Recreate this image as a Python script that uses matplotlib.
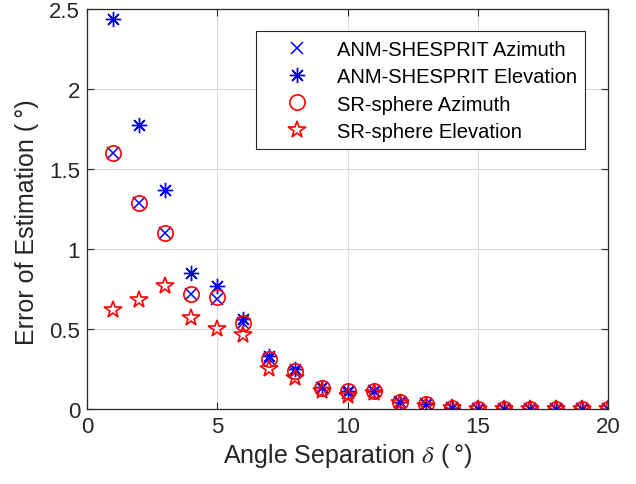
import matplotlib.pyplot as plt
import numpy as np

plt.rcParams['font.family'] = ['Liberation Sans', 'DejaVu Sans']
plt.rcParams['mathtext.fontset'] = 'stix'

# angle separation (deg)
sep = np.arange(1, 21)

anm_az = [1.60, 1.285, 1.10, 0.72, 0.69, 0.54, 0.31, 0.23, 0.13, 0.10, 0.11, 0.04, 0.03,
          0.005, 0.0, 0.0, 0.0, 0.0, 0.0, 0.0]
anm_el = [2.44, 1.775, 1.37, 0.85, 0.77, 0.56, 0.33, 0.25, 0.135, 0.11, 0.11, 0.045, 0.03,
          0.005, 0.0, 0.0, 0.0, 0.0, 0.0, 0.0]
sr_az = [1.60, 1.285, 1.10, 0.72, 0.70, 0.54, 0.31, 0.235, 0.13, 0.11, 0.11, 0.04, 0.03,
         0.005, 0.0, 0.0, 0.0, 0.0, 0.0, 0.0]
sr_el = [0.62, 0.68, 0.77, 0.57, 0.50, 0.46, 0.25, 0.19, 0.11, 0.08, 0.10, 0.035, 0.02,
         0.005, 0.0, 0.0, 0.0, 0.0, 0.0, 0.0]

fig = plt.figure(figsize=(6.36, 4.85), dpi=100)
ax = fig.add_axes([0.137, 0.155, 0.819, 0.824])

ax.plot(sep, anm_az, 'x', color='blue', ms=8, mew=1.1, label='ANM-SHESPRIT Azimuth')
ax.plot(sep, anm_el, marker=(8, 2, 0), ls='none', color='blue', ms=11, mew=1.0,
        label='ANM-SHESPRIT Elevation')
ax.plot(sep, sr_az, 'o', color='red', mfc='none', ms=11, mew=1.2, label='SR-sphere Azimuth')
ax.plot(sep, sr_el, '*', color='red', mfc='none', ms=13, mew=1.2, label='SR-sphere Elevation')

ax.set_xlim(0, 20)
ax.set_ylim(0, 2.5)
ax.set_xticks([0, 5, 10, 15, 20])
ax.set_yticks([0, 0.5, 1, 1.5, 2, 2.5])
ax.set_yticklabels(['0', '0.5', '1', '1.5', '2', '2.5'])
ax.grid(True, color='#dcdcdc', linewidth=0.8)
ax.set_axisbelow(True)
ax.tick_params(direction='in', top=True, right=True, labelsize=16, colors='#262626',
               length=5, pad=5)
for s in ax.spines.values():
    s.set_color('#262626')
    s.set_linewidth(0.9)

ax.set_xlabel('Angle Separation $\\delta$ (\u2009°)', fontsize=18, color='#262626', labelpad=3)
ax.set_ylabel('Error of Estimation (\u2009°)', fontsize=18, color='#262626')
ax.yaxis.set_label_coords(-0.093, 0.47)

leg = ax.legend(loc='upper left', bbox_to_anchor=(0.324, 0.945), fontsize=14.5,
                fancybox=False, edgecolor='#262626', framealpha=1, borderaxespad=0,
                handlelength=3.2, handletextpad=0.4, borderpad=0.42, labelspacing=0.42)
leg.get_frame().set_linewidth(0.8)

fig.savefig('out.png', dpi=100)
